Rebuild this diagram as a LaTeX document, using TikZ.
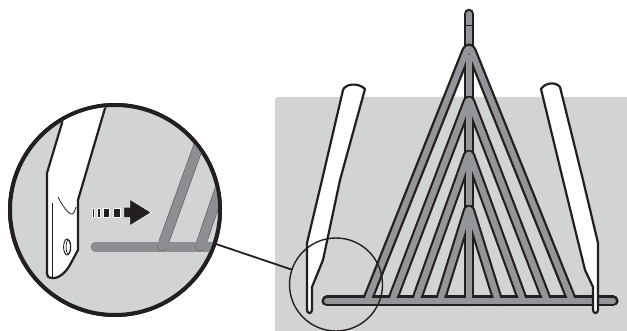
\documentclass[tikz,border=0pt]{standalone}
\usetikzlibrary{calc}
\definecolor{panel}{HTML}{D1D3D4}
\definecolor{rod}{HTML}{939598}
\definecolor{lensgrey}{HTML}{8C8E91}
\definecolor{ink}{HTML}{231F20}
\tikzset{
  rackout/.style={draw=ink,line width=10.6pt,line cap=round,line join=round},
  rackin/.style={draw=rod,line width=6pt,line cap=round,line join=round},
  blade/.style={draw=ink,fill=white,line width=2.2pt,line join=round},
  lensrod/.style={draw=ink!75,line width=10.4pt,line cap=round},
  lensrodin/.style={draw=lensgrey,line width=9.2pt,line cap=round},
  lensring/.style={circle,draw=ink,line width=4pt,inner sep=0pt,outer sep=0pt,minimum size=210pt},
  spotring/.style={circle,draw=ink,line width=1.4pt,inner sep=0pt,outer sep=0pt,minimum size=93pt},
  thinmark/.style={draw=ink,line width=0.6pt},
  dashbit/.style={fill=ink,draw=white,line width=0.4pt}
}
\begin{document}
\begin{tikzpicture}[x=1pt,y=-1pt]
\useasboundingbox (0,0) rectangle (627,331);
% panel
\fill[panel,rounded corners=3pt] (275,97) -- (640,97) -- (640,340) -- (275,340) -- cycle;
% named feet and apexes
\coordinate (vtop) at (469,14);
\coordinate (vfoot) at (469,301);
\coordinate (barL) at (327,301);
\coordinate (barR) at (613,301);
\foreach \n/\ay/\l/\r in {1/45/367/572,2/99/392/547,3/153/416/523,4/208/440/498}{
  \coordinate (apex\n) at (469,\ay);
  \coordinate (left\n) at (\l,301);
  \coordinate (right\n) at (\r,301);
}
% outlines under the bar
\draw[rackout] (vtop) -- (vfoot);
\draw[rackin] (vtop) -- (vfoot);
\foreach \n/\rr in {1/7pt,2/3pt,3/3pt,4/3pt}{
  \draw[rackout,rounded corners=\rr] (left\n) -- (apex\n) -- (right\n);
  \draw[rackin,rounded corners=\rr] (left\n) -- (apex\n) -- (right\n);
}
\draw[draw=rod,line width=5.6pt] (469,55) -- (469,96);
\draw[draw=rod,line width=5.6pt] (469,107) -- (469,150);
\draw[draw=rod,line width=5.6pt] (469,161) -- (469,205);
\draw[draw=rod,line width=5.6pt] (469,216) -- (469,301);
\foreach \n in {2,3,4}{
  \draw[rackin,rounded corners=3pt] (left\n) -- (apex\n) -- (right\n);
}
\draw[thinmark] (466,25) -- (472,25);
% bar
\draw[rackout,line width=11pt] (barL) -- (barR);
\draw[rackin] (barL) -- (barR);
\foreach \n in {1,2,3,4}{
  \draw[rackin] (left\n) -- ($(left\n)!0.06!(apex\n)$);
  \draw[rackin] (right\n) -- ($(right\n)!0.06!(apex\n)$);
}
\draw[rackin] (vfoot) -- (469,285);
% left blade
\draw[blade] (343,90) .. controls (345,84) and (358,82) .. (365,89)
  -- (340,180) -- (323,260) -- (312,287) -- (312,310)
  .. controls (312,314) and (307,314) .. (307,310)
  -- (307,243) -- (322,180) -- cycle;
% right blade
\draw[blade] (541,89) .. controls (545,83) and (555,81) .. (560,87)
  -- (583,180) -- (598,243) -- (598,310)
  .. controls (598,314) and (593,314) .. (593,310)
  -- (593,287) -- (585,270) -- (563,180) -- cycle;
% lens
\node[spotring] (spot) at (336,284.5) {};
\node[lensring,fill=panel] (lens) at (115,210) {};
\draw[draw=ink,line width=1.8pt] (lens) -- (spot);
\node[lensring,fill=panel] at (115,210) {};
\begin{scope}
  \clip (115,210) circle (103pt);
  \draw[lensrod] (162,247) -- (205,128);
  \draw[lensrodin] (162,247) -- (205,128);
  \draw[lensrod] (200,247) -- (228,165);
  \draw[lensrodin] (200,247) -- (228,165);
  \draw[lensrod] (96,247) -- (240,247);
  \draw[lensrodin] (96,247) -- (240,247);
  \draw[lensrodin] (162,247) -- (165,238);
  \draw[lensrodin] (200,247) -- (203,238);
  \draw[draw=ink!70,line width=0.5pt,line cap=round] (157.3,245.5) .. controls (156.5,251) and (164,253.5) .. (166.3,248.6);
  \draw[draw=ink!70,line width=0.5pt,line cap=round] (195.3,245.5) .. controls (194.5,251) and (202,253.5) .. (204.3,248.6);
  % blade close-up
  \draw[blade] (108,98) -- (78,200) -- (78,250) -- (71,263)
    .. controls (66,273) and (58,279) .. (52,278)
    .. controls (49,278) and (47,277) .. (47,274)
    -- (47,173) -- (62,123) -- (66,98) -- cycle;
  \draw[thinmark] (52,203) -- (52,277);
  \draw[thinmark,line width=0.8pt] (58,197) .. controls (62,205) and (68,214) .. (72,214) .. controls (74,214) and (75,210) .. (76,207);
  \draw[draw=ink,line width=0.9pt] (67,247) ellipse (3.4pt and 8pt);
  \draw[draw=ink,line width=0.7pt] (68.5,247) ellipse (2.4pt and 7pt);
  % dashed arrow
  \fill[dashbit] (92,208) rectangle (94.5,217);
  \fill[dashbit] (97,208) rectangle (100.5,217);
  \fill[dashbit] (103.5,208) rectangle (109,217);
  \fill[dashbit] (113,208) rectangle (120,217);
  \fill[dashbit] (124,207.5) -- (130,207.5) -- (130,199.5) -- (151,212.5) -- (130,225.5) -- (130,217.5) -- (124,217.5) -- cycle;
\end{scope}
\end{tikzpicture}
\end{document}
